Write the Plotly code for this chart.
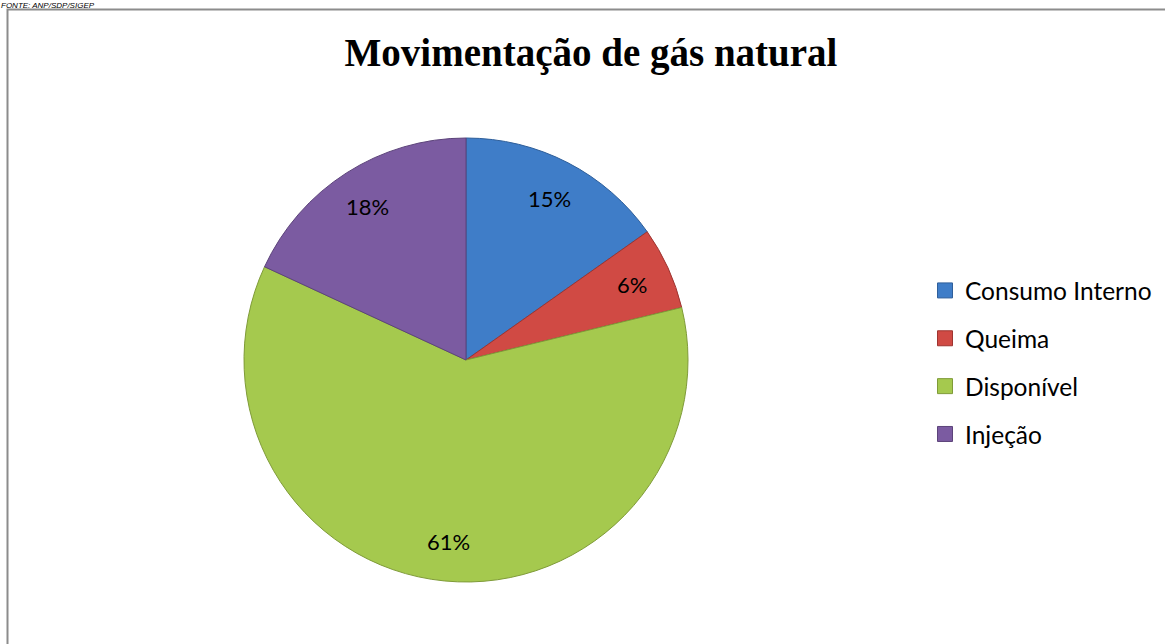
import math
import plotly.graph_objects as go

categories = ["Consumo Interno", "Queima", "Disponível", "Injeção"]
values = [15.2, 6.0, 60.7, 18.1]
colors = ["#3F7DC8", "#D04A44", "#A5C94E", "#7B5BA1"]
edge_colors = ["#2F5F9A", "#9E3430", "#7F9B38", "#5C437A"]
title_text = "Movimentação de gás natural"
source_text = "FONTE: ANP/SDP/SIGEP"

W, H = 1165, 644
cx, cy, R = 466, 360, 222
label_r = 0.82

fig = go.Figure()
fig.add_trace(go.Pie(
    labels=categories,
    values=values,
    sort=False,
    direction="clockwise",
    rotation=0,
    marker=dict(colors=colors, line=dict(color=edge_colors, width=1)),
    textinfo="none",
    showlegend=False,
    hoverinfo="label+percent",
    domain=dict(x=[(cx - R) / W, (cx + R) / W],
                y=[(H - cy - R) / H, (H - cy + R) / H]),
))

# percentage labels placed at the middle angle of each slice
total = sum(values)
annotations = []
cum = 0.0
for v in values:
    mid = (cum + v / 2) / total * 2 * math.pi
    cum += v
    px = cx + label_r * R * math.sin(mid)
    py = cy - label_r * R * math.cos(mid)
    annotations.append(dict(
        text=f"{round(v / total * 100)}%", xref="paper", yref="paper",
        x=px / W, y=1 - py / H, xanchor="center", yanchor="middle",
        showarrow=False, font=dict(family="Lato", size=22, color="#000000")))

for name, c, ec in zip(categories, colors, edge_colors):
    fig.add_trace(go.Scatter(
        x=[None], y=[None], mode="markers", name=name,
        legendgroup=name,
        marker=dict(symbol="square", size=15, color=c, line=dict(color=ec, width=1)),
    ))

annotations.append(dict(text=source_text, xref="paper", yref="paper",
                        x=0, xanchor="left", y=1, yanchor="top",
                        showarrow=False, borderpad=0,
                        font=dict(family="Liberation Sans", size=8, color="#000000", style="italic")))

fig.update_layout(
    width=W, height=H,
    margin=dict(l=0, r=0, t=0, b=0),
    paper_bgcolor="white", plot_bgcolor="white",
    xaxis=dict(visible=False), yaxis=dict(visible=False),
    title=dict(text=title_text, x=591 / W, xanchor="center",
               y=1 - 52 / H, yanchor="middle",
               font=dict(family="Liberation Serif", size=39, color="#000000", weight="bold")),
    legend=dict(x=925 / W, xanchor="left", y=1 - 268 / H, yanchor="top",
                font=dict(family="Lato", size=24.5, color="#000000"),
                tracegroupgap=13, bgcolor="rgba(0,0,0,0)"),
    shapes=[dict(type="rect", xref="paper", yref="paper",
                 x0=7.5 / W, x1=1 + 10 / W, y0=-10 / H, y1=1 - 9.5 / H,
                 line=dict(color="#8C8C8C", width=2), fillcolor="rgba(0,0,0,0)")],
    annotations=annotations,
)

fig.write_html("out.html", config={"displayModeBar": False},
               post_script="document.body.style.margin='0';")
